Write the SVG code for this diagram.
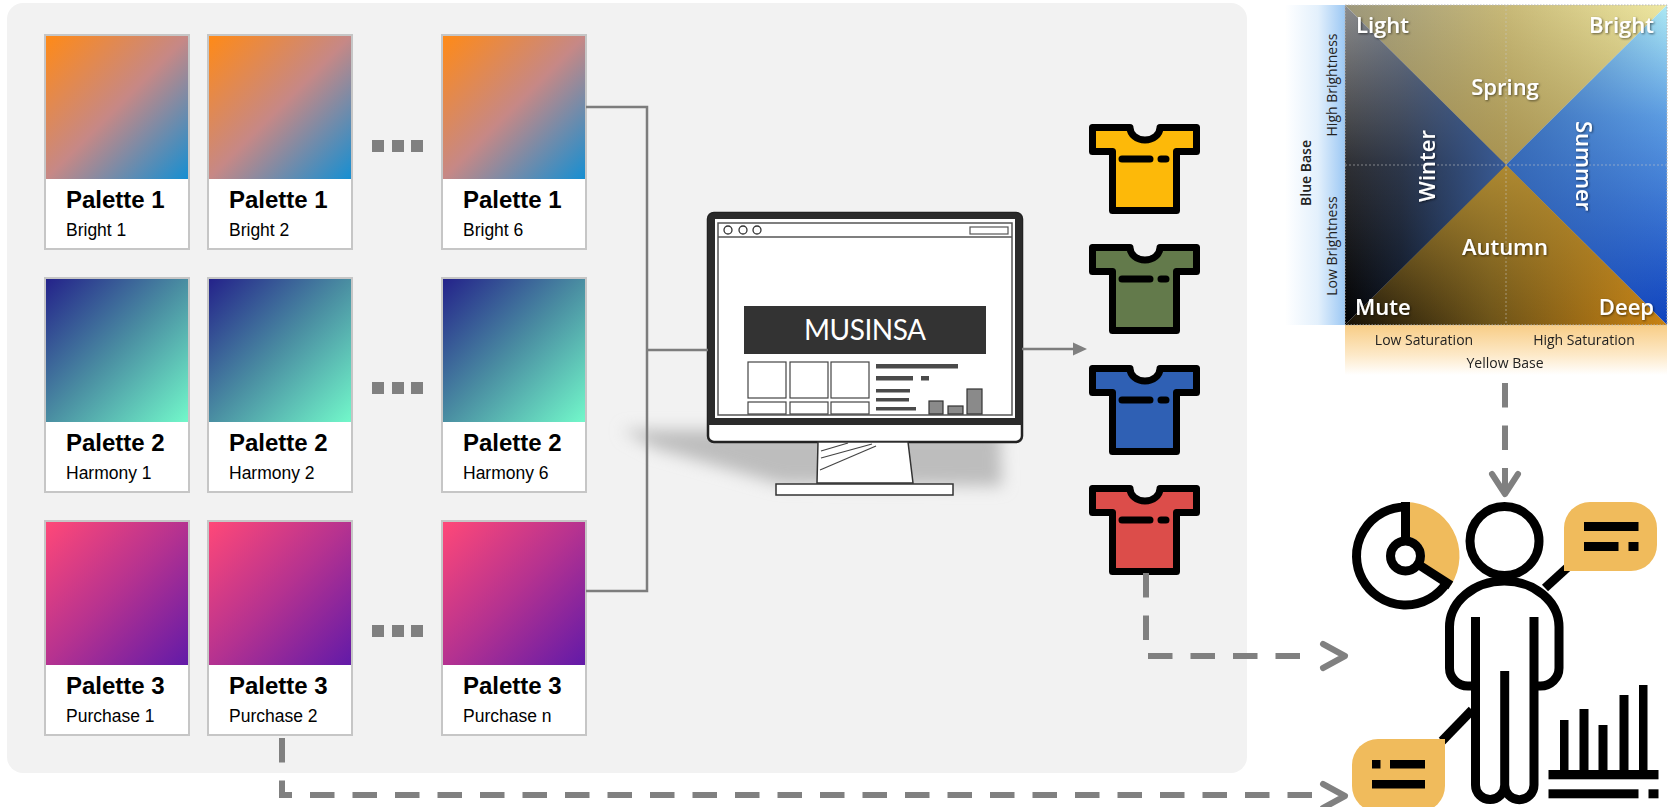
<svg xmlns="http://www.w3.org/2000/svg" width="1668" height="807" viewBox="0 0 1668 807">
  <defs>
    <!-- palette swatch gradients -->
    <linearGradient id="gBright" x1="0" y1="0" x2="1" y2="1">
      <stop offset="0" stop-color="#ff8a17"/>
      <stop offset="0.5" stop-color="#c68886"/>
      <stop offset="1" stop-color="#168fd2"/>
    </linearGradient>
    <linearGradient id="gHarmony" x1="0" y1="0" x2="1" y2="1">
      <stop offset="0" stop-color="#24228a"/>
      <stop offset="0.5" stop-color="#4a8ea2"/>
      <stop offset="1" stop-color="#72f8ca"/>
    </linearGradient>
    <linearGradient id="gPurchase" x1="0" y1="0" x2="1" y2="1">
      <stop offset="0" stop-color="#ff4878"/>
      <stop offset="0.5" stop-color="#b53290"/>
      <stop offset="1" stop-color="#621aa8"/>
    </linearGradient>

    <!-- season chart gradients -->
    <linearGradient id="blueStrip" x1="0" y1="0" x2="1" y2="0">
      <stop offset="0" stop-color="#ffffff"/>
      <stop offset="0.55" stop-color="#e3f0fc"/>
      <stop offset="1" stop-color="#9cc8f4"/>
    </linearGradient>
    <linearGradient id="yellowStrip" x1="0" y1="0" x2="0" y2="1">
      <stop offset="0" stop-color="#f8cd86"/>
      <stop offset="0.6" stop-color="#fde9c8"/>
      <stop offset="1" stop-color="#ffffff"/>
    </linearGradient>
    <linearGradient id="winterBase" x1="0" y1="0" x2="0" y2="1">
      <stop offset="0" stop-color="#8d8d8d"/>
      <stop offset="0.5" stop-color="#2e2f33"/>
      <stop offset="1" stop-color="#000000"/>
    </linearGradient>
    <linearGradient id="winterTint" x1="0" y1="0" x2="1" y2="0">
      <stop offset="0" stop-color="#2a4f90" stop-opacity="0"/>
      <stop offset="0.35" stop-color="#2a4f90" stop-opacity="0.25"/>
      <stop offset="1" stop-color="#3a5e9c" stop-opacity="0.95"/>
    </linearGradient>
    <linearGradient id="springBase" x1="0" y1="0" x2="1" y2="0">
      <stop offset="0" stop-color="#9d987c"/>
      <stop offset="0.5" stop-color="#c8b978"/>
      <stop offset="1" stop-color="#efe8a2"/>
    </linearGradient>
    <linearGradient id="springShade" x1="0" y1="0" x2="0" y2="1">
      <stop offset="0" stop-color="#806c2c" stop-opacity="0"/>
      <stop offset="1" stop-color="#8f7430" stop-opacity="0.55"/>
    </linearGradient>
    <linearGradient id="summerBase" x1="0" y1="0" x2="0" y2="1">
      <stop offset="0" stop-color="#aeeaf4"/>
      <stop offset="0.35" stop-color="#5c9ce2"/>
      <stop offset="1" stop-color="#0f42be"/>
    </linearGradient>
    <linearGradient id="summerShade" x1="0" y1="0" x2="1" y2="0">
      <stop offset="0" stop-color="#2c5aa6" stop-opacity="0.7"/>
      <stop offset="1" stop-color="#2c5aa6" stop-opacity="0"/>
    </linearGradient>
    <linearGradient id="autumnBase" x1="0" y1="0" x2="1" y2="0">
      <stop offset="0" stop-color="#151007"/>
      <stop offset="0.45" stop-color="#6b5218"/>
      <stop offset="1" stop-color="#c98212"/>
    </linearGradient>
    <linearGradient id="autumnGlow" x1="0" y1="0" x2="0" y2="1">
      <stop offset="0" stop-color="#b89236" stop-opacity="0.85"/>
      <stop offset="1" stop-color="#b89236" stop-opacity="0"/>
    </linearGradient>

    <filter id="softShadow" x="-20%" y="-50%" width="140%" height="200%">
      <feGaussianBlur stdDeviation="8"/>
    </filter>
    <filter id="textShadow" x="-10%" y="-30%" width="120%" height="160%">
      <feDropShadow dx="1" dy="1" stdDeviation="0.8" flood-color="#000" flood-opacity="0.55"/>
    </filter>
  </defs>

  <style>
    .panel { fill: #f2f2f2; }
    .frame { fill: #ffffff; stroke: #c6c6c6; stroke-width: 2; }
    .title { font-family: "Liberation Sans", Arial, sans-serif; font-weight: bold; font-size: 24px; fill: #000; }
    .sub { font-family: "Liberation Sans", Arial, sans-serif; font-size: 17.5px; fill: #000; }
    .dot { fill: #808080; }
    .wire { fill: none; stroke: #7d7d7d; stroke-width: 2.5; }
    .dash { fill: none; stroke: #808080; stroke-width: 6; stroke-dasharray: 24.5 18; }
    .chev { fill: none; stroke: #808080; stroke-width: 6; stroke-linecap: round; stroke-linejoin: round; }
    .shirt { stroke: #000; stroke-width: 7; stroke-linejoin: round; }
    .stripe { fill: none; stroke: #000; stroke-width: 7; stroke-linecap: round; }
    .ink { fill: none; stroke: #000; stroke-width: 9; }
    .inkfill { fill: #000; }
    .amber { fill: #f0bb5c; }
    .big { font-family: "Open Sans", "Noto Sans", sans-serif; font-weight: 600; font-size: 22px; fill: #fff; }
    .small { font-family: "Open Sans", "Noto Sans", sans-serif; font-size: 14px; fill: #222; }
    .axis { font-family: "Open Sans", "Noto Sans", sans-serif; font-weight: 600; font-size: 14px; fill: #222; }
    .grid { fill: none; stroke: #c8c8c8; stroke-opacity: 0.55; stroke-width: 1; stroke-dasharray: 2 2; }
  </style>

  <!-- shared backdrop -->
  <rect class="panel" x="7" y="3" width="1240" height="770" rx="16"/>

  <!-- palette cards: row 1 -->
  <g id="card-bright-1">
    <rect class="frame" x="45" y="35" width="144" height="214"/>
    <rect x="46" y="36" width="142" height="143" fill="url(#gBright)"/>
    <text class="title" x="66" y="208">Palette 1</text>
    <text class="sub" x="66" y="236">Bright 1</text>
  </g>
  <g id="card-bright-2">
    <rect class="frame" x="208" y="35" width="144" height="214"/>
    <rect x="209" y="36" width="142" height="143" fill="url(#gBright)"/>
    <text class="title" x="229" y="208">Palette 1</text>
    <text class="sub" x="229" y="236">Bright 2</text>
  </g>
  <g id="card-bright-6">
    <rect class="frame" x="442" y="35" width="144" height="214"/>
    <rect x="443" y="36" width="142" height="143" fill="url(#gBright)"/>
    <text class="title" x="463" y="208">Palette 1</text>
    <text class="sub" x="463" y="236">Bright 6</text>
  </g>

  <!-- palette cards: row 2 -->
  <g id="card-harmony-1">
    <rect class="frame" x="45" y="278" width="144" height="214"/>
    <rect x="46" y="279" width="142" height="143" fill="url(#gHarmony)"/>
    <text class="title" x="66" y="451">Palette 2</text>
    <text class="sub" x="66" y="479">Harmony 1</text>
  </g>
  <g id="card-harmony-2">
    <rect class="frame" x="208" y="278" width="144" height="214"/>
    <rect x="209" y="279" width="142" height="143" fill="url(#gHarmony)"/>
    <text class="title" x="229" y="451">Palette 2</text>
    <text class="sub" x="229" y="479">Harmony 2</text>
  </g>
  <g id="card-harmony-6">
    <rect class="frame" x="442" y="278" width="144" height="214"/>
    <rect x="443" y="279" width="142" height="143" fill="url(#gHarmony)"/>
    <text class="title" x="463" y="451">Palette 2</text>
    <text class="sub" x="463" y="479">Harmony 6</text>
  </g>

  <!-- palette cards: row 3 -->
  <g id="card-purchase-1">
    <rect class="frame" x="45" y="521" width="144" height="214"/>
    <rect x="46" y="522" width="142" height="143" fill="url(#gPurchase)"/>
    <text class="title" x="66" y="694">Palette 3</text>
    <text class="sub" x="66" y="722">Purchase 1</text>
  </g>
  <g id="card-purchase-2">
    <rect class="frame" x="208" y="521" width="144" height="214"/>
    <rect x="209" y="522" width="142" height="143" fill="url(#gPurchase)"/>
    <text class="title" x="229" y="694">Palette 3</text>
    <text class="sub" x="229" y="722">Purchase 2</text>
  </g>
  <g id="card-purchase-n">
    <rect class="frame" x="442" y="521" width="144" height="214"/>
    <rect x="443" y="522" width="142" height="143" fill="url(#gPurchase)"/>
    <text class="title" x="463" y="694">Palette 3</text>
    <text class="sub" x="463" y="722">Purchase n</text>
  </g>

  <!-- ellipsis markers between cards -->
  <g id="ellipsis">
    <rect class="dot" x="372" y="140" width="12" height="12"/>
    <rect class="dot" x="392" y="140" width="12" height="12"/>
    <rect class="dot" x="411" y="140" width="12" height="12"/>
    <rect class="dot" x="372" y="382" width="12" height="12"/>
    <rect class="dot" x="392" y="382" width="12" height="12"/>
    <rect class="dot" x="411" y="382" width="12" height="12"/>
    <rect class="dot" x="372" y="625" width="12" height="12"/>
    <rect class="dot" x="392" y="625" width="12" height="12"/>
    <rect class="dot" x="411" y="625" width="12" height="12"/>
  </g>

  <!-- shopping site on a desktop monitor -->
  <g id="monitor">
    <polygon points="622,430 1000,430 1002,486 780,484 655,448" fill="#bdbdbd" filter="url(#softShadow)"/>
    <rect x="708" y="213" width="314" height="229" rx="6" fill="#fff" stroke="#222" stroke-width="2.5"/>
    <path d="M714 213 H1016 A6 6 0 0 1 1022 219 V425 H708 V219 A6 6 0 0 1 714 213 Z" fill="#2b2b2b"/>
    <rect x="715" y="219" width="300" height="199" fill="#fff"/>
    <rect x="718" y="223" width="294" height="192" fill="none" stroke="#555" stroke-width="1.5"/>
    <line x1="718" y1="237" x2="1012" y2="237" stroke="#555" stroke-width="1.5"/>
    <circle cx="728" cy="230" r="4" fill="#fff" stroke="#333" stroke-width="1.3"/>
    <circle cx="743" cy="230" r="4" fill="#fff" stroke="#333" stroke-width="1.3"/>
    <circle cx="757" cy="230" r="4" fill="#fff" stroke="#333" stroke-width="1.3"/>
    <rect x="970" y="227" width="38" height="7" fill="none" stroke="#555" stroke-width="1.2"/>
    <rect x="744" y="306" width="242" height="48" fill="#333"/>
    <text x="865" y="340" text-anchor="middle" font-family="Lato, 'Open Sans', sans-serif" font-size="28" fill="#fff" textLength="122" lengthAdjust="spacing">MUSINSA</text>
    <g fill="#fff" stroke="#444" stroke-width="1.2">
      <rect x="748" y="362" width="38" height="36"/>
      <rect x="790" y="362" width="38" height="36"/>
      <rect x="831" y="362" width="38" height="36"/>
      <rect x="748" y="402" width="38" height="12"/>
      <rect x="790" y="402" width="38" height="12"/>
      <rect x="831" y="402" width="38" height="12"/>
    </g>
    <g fill="#4a4a4a">
      <rect x="876" y="364" width="82" height="4.5"/>
      <rect x="876" y="376" width="37" height="4.5"/>
      <rect x="921" y="376" width="8" height="4.5"/>
      <rect x="876" y="389" width="34" height="3.5"/>
      <rect x="876" y="398" width="33" height="3.5"/>
      <rect x="876" y="407" width="40" height="3.5"/>
    </g>
    <g fill="#8a8a8a" stroke="#333" stroke-width="1.2">
      <rect x="929" y="401" width="14" height="13"/>
      <rect x="948" y="406" width="15" height="8"/>
      <rect x="967" y="389" width="15" height="25"/>
    </g>
    <polygon points="818,442 908,442 913,483 817,483" fill="#fff" stroke="#333" stroke-width="1.5"/>
    <g stroke="#444" stroke-width="1.2">
      <line x1="821" y1="451" x2="848" y2="443"/>
      <line x1="821" y1="458" x2="872" y2="444"/>
      <line x1="820" y1="470" x2="876" y2="446"/>
    </g>
    <rect x="776" y="484" width="177" height="11" fill="#fff" stroke="#333" stroke-width="1.5"/>
  </g>

  <!-- recommended shirts -->
  <g id="shirt-yellow" transform="translate(1089,124)">
    <path class="shirt" fill="#fdb909" d="M3.5 3.5 H41 A15 12.5 0 0 0 71 3.5 H107.5 V27.5 H87.5 V86.5 H23.5 V27.5 H3.5 Z"/>
    <path class="stripe" d="M33 35 H61 M72 35 H77"/>
  </g>
  <g id="shirt-green" transform="translate(1089,244)">
    <path class="shirt" fill="#637a4b" d="M3.5 3.5 H41 A15 12.5 0 0 0 71 3.5 H107.5 V27.5 H87.5 V86.5 H23.5 V27.5 H3.5 Z"/>
    <path class="stripe" d="M33 35 H61 M72 35 H77"/>
  </g>
  <g id="shirt-blue" transform="translate(1089,365)">
    <path class="shirt" fill="#2f60b4" d="M3.5 3.5 H41 A15 12.5 0 0 0 71 3.5 H107.5 V27.5 H87.5 V86.5 H23.5 V27.5 H3.5 Z"/>
    <path class="stripe" d="M33 35 H61 M72 35 H77"/>
  </g>
  <g id="shirt-red" transform="translate(1089,485)">
    <path class="shirt" fill="#dc4d4a" d="M3.5 3.5 H41 A15 12.5 0 0 0 71 3.5 H107.5 V27.5 H87.5 V86.5 H23.5 V27.5 H3.5 Z"/>
    <path class="stripe" d="M33 35 H61 M72 35 H77"/>
  </g>

  <!-- personal colour season chart -->
  <g id="season-chart">
    <rect x="1285" y="5" width="60" height="320" fill="url(#blueStrip)"/>
    <rect x="1345" y="325" width="322" height="50" fill="url(#yellowStrip)"/>
    <polygon points="1345,5 1667,5 1506,165" fill="url(#springBase)"/>
    <polygon points="1345,5 1667,5 1506,165" fill="url(#springShade)"/>
    <polygon points="1667,5 1667,325 1506,165" fill="url(#summerBase)"/>
    <polygon points="1667,5 1667,325 1506,165" fill="url(#summerShade)"/>
    <polygon points="1345,325 1667,325 1506,165" fill="url(#autumnBase)"/>
    <polygon points="1345,325 1667,325 1506,165" fill="url(#autumnGlow)"/>
    <polygon points="1345,5 1506,165 1345,325" fill="url(#winterBase)"/>
    <polygon points="1345,5 1506,165 1345,325" fill="url(#winterTint)"/>
    <path class="grid" d="M1506 5 V325 M1345 165 H1667"/>
    <rect x="1345" y="5" width="322" height="320" fill="none" stroke="#b8b8b8" stroke-width="1" stroke-dasharray="1.5 1.5"/>
    <g filter="url(#textShadow)">
      <text class="big" x="1356" y="33">Light</text>
      <text class="big" x="1654" y="33" text-anchor="end">Bright</text>
      <text class="big" x="1505" y="95" text-anchor="middle">Spring</text>
      <text class="big" transform="translate(1435,166) rotate(-90)" text-anchor="middle">Winter</text>
      <text class="big" transform="translate(1576,166) rotate(90)" text-anchor="middle">Summer</text>
      <text class="big" x="1505" y="255" text-anchor="middle">Autumn</text>
      <text class="big" x="1355" y="315">Mute</text>
      <text class="big" x="1654" y="315" text-anchor="end">Deep</text>
    </g>
    <text class="axis" transform="translate(1311,173) rotate(-90)" text-anchor="middle">Blue Base</text>
    <text class="small" transform="translate(1337,85) rotate(-90)" text-anchor="middle">High Brightness</text>
    <text class="small" transform="translate(1337,246) rotate(-90)" text-anchor="middle">Low Brightness</text>
    <text class="small" x="1424" y="345" text-anchor="middle">Low Saturation</text>
    <text class="small" x="1584" y="345" text-anchor="middle">High Saturation</text>
    <text class="small" x="1505" y="368" text-anchor="middle">Yellow Base</text>
  </g>

  <!-- analyst figure with charts and speech bubbles -->
  <g id="analyst">
    <!-- donut chart -->
    <path class="amber" d="M1405.5 502 A54 54 0 0 1 1450.8 585.4 L1421.6 566.4 A19 19 0 0 0 1405.5 537 Z"/>
    <path class="ink" d="M1446.6 582.7 A49 49 0 1 1 1405.5 507"/>
    <circle class="ink" cx="1405.5" cy="556" r="15" stroke-width="8.5"/>
    <line class="ink" x1="1405.5" y1="502" x2="1405.5" y2="541" stroke-width="8.5"/>
    <line class="ink" x1="1418" y1="564.2" x2="1450.8" y2="585.4" stroke-width="8.5"/>
    <!-- person -->
    <circle class="ink" cx="1504.5" cy="541" r="34.5" fill="#fff"/>
    <path class="ink" fill="#fff" d="M1475.5 686 H1468 A18.5 18 0 0 1 1449.5 668 V627 A54.75 46 0 0 1 1559 627 V668 A18.5 18 0 0 1 1540.5 686 H1534.5"/>
    <path class="ink" fill="#fff" d="M1475.5 617 V785 A14.6 14.6 0 0 0 1504.7 785 A14.6 14.6 0 0 0 1534 785 V617"/>
    <line class="ink" x1="1504.7" y1="671" x2="1504.7" y2="785"/>
    <!-- upper speech bubble -->
    <line class="ink" x1="1568" y1="567" x2="1545" y2="588"/>
    <path class="amber" d="M1564 571 V528 A26 26 0 0 1 1590 502 H1631 A26 26 0 0 1 1657 528 V545 A26 26 0 0 1 1631 571 Z"/>
    <rect class="inkfill" x="1584" y="522" width="54.5" height="9"/>
    <rect class="inkfill" x="1584" y="542" width="34.5" height="9"/>
    <rect class="inkfill" x="1628.5" y="542" width="10" height="9"/>
    <!-- lower speech bubble -->
    <line class="ink" x1="1442" y1="741" x2="1472" y2="710"/>
    <path class="amber" d="M1445 739 V786 A26 26 0 0 1 1419 812 H1378 A26 26 0 0 1 1352 786 V765 A26 26 0 0 1 1378 739 Z"/>
    <rect class="inkfill" x="1372" y="760" width="8.5" height="8.5"/>
    <rect class="inkfill" x="1390" y="760" width="35" height="8.5"/>
    <rect class="inkfill" x="1372" y="780" width="53" height="8.5"/>
    <!-- bar chart -->
    <rect class="inkfill" x="1560" y="720" width="8.5" height="52"/>
    <rect class="inkfill" x="1579.5" y="709" width="9" height="63"/>
    <rect class="inkfill" x="1598.5" y="725" width="9" height="47"/>
    <rect class="inkfill" x="1619.5" y="695" width="9" height="77"/>
    <rect class="inkfill" x="1639" y="685" width="8.5" height="87"/>
    <rect class="inkfill" x="1548.5" y="770" width="110" height="9.3"/>
    <rect class="inkfill" x="1548.5" y="789.3" width="90" height="9"/>
    <rect class="inkfill" x="1648.5" y="789.3" width="10" height="9"/>
  </g>

  <!-- connectors -->
  <g id="connectors">
    <path class="wire" d="M586 107 H647 V591 H586"/>
    <path class="wire" d="M647 350 H708"/>
    <path class="wire" d="M1022 349 H1076"/>
    <polygon points="1073,342.5 1087,349 1073,355.5" fill="#808080"/>
    <path class="dash" d="M1146 573 V656 H1301"/>
    <polyline class="chev" points="1323,644 1345,656 1323,668"/>
    <path class="dash" d="M282 738 V795 H1313"/>
    <polyline class="chev" points="1323,784 1345,796 1323,808"/>
    <path class="dash" d="M1505 383 V493"/>
    <polyline class="chev" points="1492,474 1505,494 1518,474"/>
  </g>
</svg>
